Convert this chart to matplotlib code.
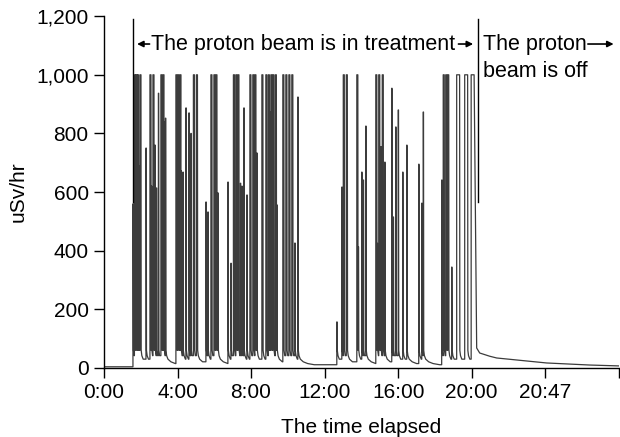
import matplotlib
matplotlib.use("Agg")
import matplotlib.pyplot as plt

plt.rcParams['font.family'] = ['Liberation Sans', 'DejaVu Sans']

# ---- data (x in tick-index units: 0 -> "0:00", 1 -> "4:00", ...) ----
tick_pos = [0, 1, 2, 3, 4, 5, 6, 7]
tick_labels = ["0:00", "4:00", "8:00", "12:00", "16:00", "20:00", "20:47", ""]
y_ticks = [0, 200, 400, 600, 800, 1000, 1200]
y_labels = ["0", "200", "400", "600", "800", "1,000", "1,200"]

spike_t = [0.394, 0.414, 0.435, 0.455, 0.476, 0.489, 0.571, 0.625, 0.645, 0.666,
           0.693, 0.713, 0.740, 0.774, 0.802, 0.815, 0.836, 0.978, 1.005, 1.033,
           1.046, 1.073, 1.114, 1.155, 1.182, 1.216, 1.257, 1.386, 1.413, 1.454,
           1.495, 1.522, 1.549, 1.685, 1.726, 1.760, 1.793, 1.821, 1.855, 1.875,
           1.902, 1.943, 1.984, 2.024, 2.052, 2.079, 2.147, 2.201, 2.235, 2.255,
           2.269, 2.296, 2.330, 2.351, 2.432, 2.473, 2.514, 2.554, 2.595, 2.636,
           3.166, 3.234, 3.254, 3.295, 3.438, 3.458, 3.505, 3.526, 3.560, 3.696,
           3.716, 3.736, 3.764, 3.784, 3.818, 3.913, 3.933, 3.967, 4.001, 4.062,
           4.117, 4.280, 4.321, 4.341, 4.592, 4.613, 4.647, 4.674, 4.728, 4.796,
           4.905, 4.993]
spike_v = [560, 1000, 1000, 1000, 690, 1000, 750, 1000, 620, 1000,
           760, 614, 937, 1000, 1000, 840, 852, 1000, 1000, 1000,
           672, 668, 887, 870, 800, 1000, 1000, 566, 532, 1000,
           1000, 1000, 597, 634, 357, 1000, 1000, 1000, 630, 620,
           887, 590, 1000, 1000, 1000, 733, 1000, 1000, 1000, 873,
           1000, 1000, 1000, 556, 1000, 1000, 1000, 1000, 426, 924,
           157, 617, 1000, 1000, 1000, 413, 668, 641, 825, 1000,
           425, 1000, 755, 1000, 702, 954, 515, 822, 880, 668,
           760, 695, 562, 873, 641, 1000, 1000, 1000, 344, 1000,
           1000, 1000]

# decay after each pulse (offset after the pulse, dose rate)
tail_dt = [0.003, 0.012, 0.03, 0.07, 0.13, 0.22]
tail_v = [60, 42, 30, 21, 15, 11]

# background before treatment and decay after beam off
pre_t = [0.0, 0.394]
pre_v = [4, 4]
post_t = [5.068, 5.109, 5.245, 5.340, 5.747, 6.019, 6.603, 6.997]
post_v = [68, 51, 40, 34, 24, 17, 10, 7]

marker_t = [0.394, 5.082]
marker_lo, marker_hi = 565, 1190

# ---- build trace ----
xs = list(pre_t)
ys = list(pre_v)
cur = pre_v[-1]
n = len(spike_t)
for i in range(n):
    t = spike_t[i]
    v = spike_v[i]
    w = 0.014 if v >= 1000 else 0.004
    if i >= n - 3:
        w = 0.04 if v >= 1000 else w
    xs += [t, t, t + w]
    ys += [cur, v, v]
    nxt = spike_t[i + 1] if i + 1 < n else post_t[0]
    if i + 1 < n:
        for dt, tv in zip(tail_dt, tail_v):
            if t + w + dt < nxt - 0.002:
                xs.append(t + w + dt)
                ys.append(tv)
                cur = tv
            else:
                break
xs += post_t
ys += post_v

fig = plt.figure(figsize=(6.2, 4.37), dpi=100)
ax = fig.add_axes([0.1677, 0.158, 0.8303, 0.805])
ax.plot(xs, ys, color='#3c3c3c', lw=0.9)
for mt in marker_t:
    ax.plot([mt, mt], [marker_lo, marker_hi], color='black', lw=1.0)

ax.set_xlim(0, 7)
ax.set_ylim(0, 1200)
ax.set_xticks(tick_pos)
ax.set_xticklabels(tick_labels)
ax.set_yticks(y_ticks)
ax.set_yticklabels(y_labels)
for s in ['top', 'right']:
    ax.spines[s].set_visible(False)
for s in ['left', 'bottom']:
    ax.spines[s].set_linewidth(1.0)
ax.tick_params(direction='out', length=7, width=1.0, labelsize=15, pad=4)
ax.set_xlabel("The time elapsed", fontsize=15, labelpad=11)
ax.set_ylabel("uSv/hr", fontsize=15, labelpad=6)

arrow_kw = dict(arrowstyle='-|>', color='black', lw=1.2,
                mutation_scale=9, shrinkA=0, shrinkB=0)
ax.annotate("", xy=(0.45, 1105), xytext=(0.62, 1105), arrowprops=arrow_kw)
ax.text(0.64, 1105, "The proton beam is in treatment", fontsize=15.5,
        va='center', ha='left')
ax.annotate("", xy=(5.02, 1105), xytext=(4.82, 1105), arrowprops=arrow_kw)
ax.text(5.15, 1105, "The proton", fontsize=15.5, va='center', ha='left')
ax.text(5.15, 1012, "beam is off", fontsize=15.5, va='center', ha='left')
ax.annotate("", xy=(6.93, 1105), xytext=(6.58, 1105), arrowprops=arrow_kw)

fig.savefig("out.png", dpi=100)
